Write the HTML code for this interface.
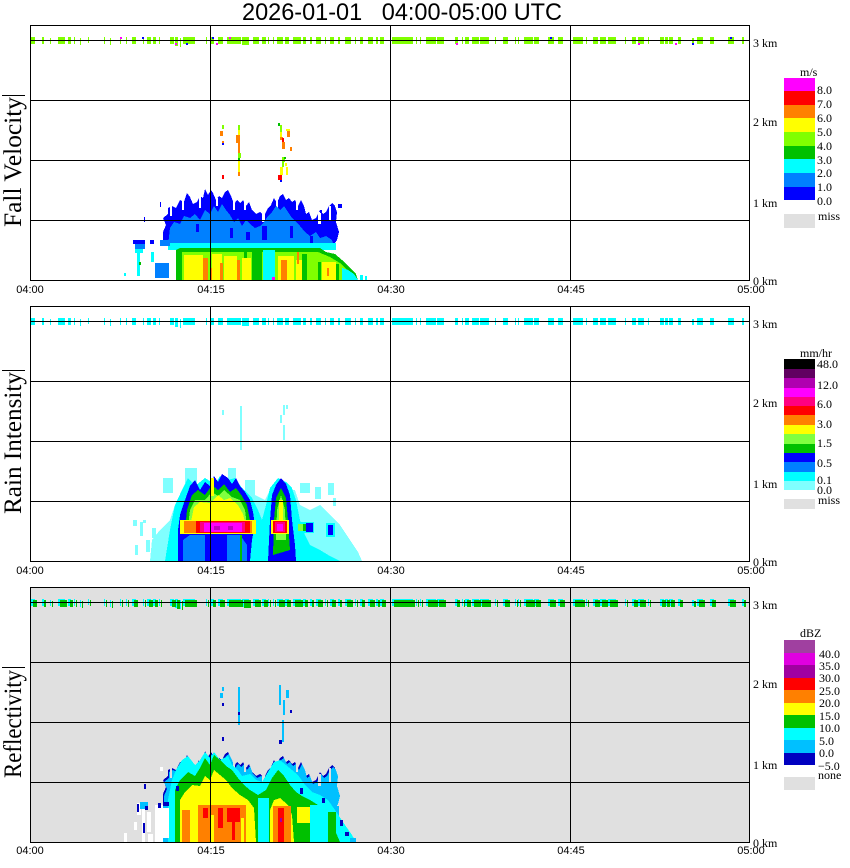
<!DOCTYPE html>
<html><head><meta charset="utf-8"><style>
html,body{margin:0;padding:0;background:#fff;width:850px;height:868px;overflow:hidden}
svg{display:block}
.t{font-family:"Liberation Sans",sans-serif}
.s{font-family:"Liberation Serif",serif}
.pre{white-space:pre}
</style></head><body>
<svg width="850" height="868" viewBox="0 0 850 868" xmlns="http://www.w3.org/2000/svg" shape-rendering="crispEdges">
<defs>
<g id="dash">
<rect x="31" y="37" width="4" height="7"/><rect x="42" y="37" width="2" height="7"/><rect x="50" y="38" width="1" height="6"/><rect x="58" y="37" width="7" height="7"/><rect x="68" y="37" width="3" height="7"/><rect x="74" y="37" width="1" height="7"/><rect x="80" y="38" width="1" height="7"/><rect x="88" y="37" width="1" height="6"/><rect x="104" y="37" width="1" height="7"/><rect x="110" y="38" width="1" height="7"/><rect x="120" y="37" width="1" height="7"/><rect x="126" y="37" width="1" height="7"/><rect x="132" y="37" width="4" height="7"/><rect x="143" y="37" width="1" height="7"/><rect x="147" y="37" width="4" height="7"/><rect x="153" y="37" width="3" height="7"/><rect x="159" y="37" width="1" height="7"/><rect x="170" y="37" width="4" height="7"/><rect x="175" y="37" width="3" height="9"/><rect x="180" y="38" width="1" height="9"/><rect x="183" y="37" width="12" height="7"/><rect x="206" y="37" width="1" height="7"/><rect x="211" y="37" width="3" height="7"/><rect x="218" y="37" width="5" height="7"/><rect x="227" y="37" width="6" height="7"/><rect x="233" y="37" width="8" height="7"/><rect x="242" y="37" width="7" height="8"/><rect x="253" y="37" width="6" height="7"/><rect x="262" y="37" width="4" height="7"/><rect x="268" y="37" width="1" height="7"/><rect x="273" y="37" width="1" height="7"/><rect x="277" y="37" width="6" height="7"/><rect x="285" y="37" width="4" height="7"/><rect x="293" y="37" width="8" height="7"/>
<rect x="303" y="37" width="3" height="7"/><rect x="310" y="37" width="2" height="7"/><rect x="316" y="37" width="5" height="7"/><rect x="325" y="37" width="1" height="7"/><rect x="330" y="37" width="4" height="7"/><rect x="338" y="37" width="2" height="7"/><rect x="345" y="37" width="6" height="7"/><rect x="355" y="37" width="1" height="7"/><rect x="360" y="37" width="3" height="7"/><rect x="368" y="37" width="5" height="7"/><rect x="376" y="37" width="2" height="7"/>
<rect x="380" y="37" width="4" height="7"/><rect x="392" y="37" width="21" height="7"/><rect x="416" y="37" width="1" height="7"/><rect x="420" y="37" width="1" height="7"/><rect x="426" y="37" width="10" height="7"/><rect x="437" y="37" width="7" height="7"/><rect x="455" y="37" width="3" height="7"/><rect x="462" y="37" width="1" height="7"/><rect x="465" y="37" width="4" height="7"/><rect x="472" y="37" width="7" height="7"/><rect x="480" y="37" width="9" height="7"/><rect x="495" y="37" width="1" height="7"/><rect x="503" y="37" width="5" height="7"/><rect x="515" y="37" width="1" height="7"/><rect x="518" y="37" width="1" height="7"/><rect x="524" y="37" width="9" height="7"/><rect x="534" y="37" width="5" height="7"/><rect x="548" y="37" width="6" height="7"/><rect x="558" y="37" width="5" height="7"/><rect x="573" y="37" width="10" height="7"/><rect x="586" y="37" width="1" height="7"/><rect x="593" y="37" width="5" height="7"/><rect x="600" y="37" width="6" height="7"/><rect x="608" y="37" width="8" height="7"/><rect x="625" y="37" width="1" height="7"/><rect x="632" y="37" width="4" height="7"/><rect x="638" y="37" width="6" height="7"/><rect x="648" y="37" width="1" height="7"/><rect x="660" y="37" width="4" height="7"/><rect x="665" y="37" width="3" height="7"/><rect x="669" y="37" width="4" height="7"/><rect x="678" y="37" width="3" height="7"/><rect x="692" y="38" width="2" height="6"/><rect x="697" y="37" width="6" height="7"/><rect x="710" y="37" width="4" height="7"/><rect x="728" y="37" width="6" height="7"/><rect x="742" y="37" width="2" height="7"/>
</g>
<polygon id="env" points="163,246 163,232 166,225 163,218 168,214 168,208 172,206 176,208 180,200 184,202 187,193 190,197 193,204 197,202 200,196 203,198 205,189 208,195 211,190 213,193 216,200 219,196 222,198 225,192 228,190 231,196 234,204 237,200 240,203 243,200 246,206 249,202 252,210 256,214 260,212 264,216 268,208 271,205 274,198 277,203 280,196 283,194 286,200 289,198 292,202 295,200 298,206 301,200 304,206 306,214 309,212 312,220 316,218 320,210 323,214 326,212 329,206 332,203 335,206 337,212 336,222 339,232 337,240 333,246"/>
<g id="gaps">
<rect x="182" y="200" width="2" height="10"/><rect x="199" y="196" width="2" height="12"/><rect x="216" y="198" width="2" height="8"/><rect x="244" y="200" width="2" height="10"/><rect x="262" y="212" width="3" height="10"/><rect x="296" y="200" width="2" height="10"/><rect x="318" y="212" width="3" height="12"/><rect x="329" y="206" width="2" height="14"/><rect x="233" y="198" width="2" height="12"/><rect x="276" y="200" width="2" height="8"/><rect x="170" y="206" width="2" height="10"/>
</g>
</defs>

<rect x="0" y="0" width="850" height="868" fill="#fff"/>
<rect x="30" y="587" width="720" height="255" fill="#e0e0e0"/>

<!-- ===== PANEL 1 DATA ===== -->
<use href="#dash" fill="#80ff00"/>
<g>
<rect x="120" y="37" width="2" height="2" fill="#ff00ff"/><rect x="175" y="43" width="2" height="2" fill="#ff00ff"/><rect x="216" y="43" width="2" height="2" fill="#ff00ff"/><rect x="229" y="37" width="2" height="2" fill="#ff00ff"/><rect x="456" y="43" width="2" height="2" fill="#ff00ff"/><rect x="638" y="43" width="2" height="2" fill="#ff00ff"/><rect x="675" y="43" width="2" height="2" fill="#ff00ff"/>
<rect x="142" y="37" width="2" height="2" fill="#0000ff"/><rect x="186" y="43" width="2" height="2" fill="#0000ff"/><rect x="212" y="37" width="2" height="2" fill="#0000ff"/><rect x="550" y="37" width="2" height="2" fill="#0000ff"/><rect x="692" y="43" width="2" height="2" fill="#0000ff"/><rect x="730" y="37" width="2" height="2" fill="#0000ff"/>
</g>
<use href="#env" fill="#0000ff"/>
<use href="#gaps" fill="#ffffff"/>
<polygon fill="#0080ff" points="168,246 170,228 174,222 180,224 184,216 190,218 195,214 200,220 205,210 210,214 214,206 218,212 222,204 226,210 230,215 234,222 238,218 242,226 246,220 250,224 255,228 260,226 264,222 268,216 272,212 276,206 280,210 284,206 288,212 292,218 296,222 300,226 305,232 310,236 316,232 320,238 326,236 332,240 334,246"/>
<g fill="#0000ff">
<rect x="262" y="226" width="5" height="14"/><rect x="230" y="228" width="3" height="10"/><rect x="196" y="224" width="3" height="8"/><rect x="290" y="226" width="3" height="12"/><rect x="246" y="232" width="4" height="8"/><rect x="310" y="236" width="3" height="8"/>
<rect x="160" y="202" width="1" height="5"/><rect x="144" y="217" width="1" height="5"/><rect x="338" y="204" width="4" height="4"/><rect x="320" y="210" width="2" height="3"/>
</g>
<rect x="168" y="243" width="168" height="7" fill="#00ffff"/>
<polygon fill="#00c000" points="176,280 176,250 180,248 320,248 326,252 335,254 342,260 350,268 356,274 358,280"/>
<polygon fill="#80ff00" points="179,280 179,252 318,252 330,257 340,263 347,270 352,280"/>
<g fill="#ffff00">
<rect x="184" y="255" width="19" height="25"/><rect x="212" y="254" width="10" height="26"/><rect x="224" y="256" width="13" height="24"/><rect x="242" y="258" width="9" height="22"/><rect x="278" y="256" width="16" height="24"/><rect x="296" y="260" width="6" height="20"/><rect x="322" y="262" width="14" height="18"/>
</g>
<g fill="#ff8000">
<rect x="203" y="258" width="5" height="22"/><rect x="220" y="263" width="3" height="17"/><rect x="237" y="260" width="3" height="20"/><rect x="281" y="260" width="6" height="20"/><rect x="297" y="252" width="2" height="12"/><rect x="210" y="268" width="2" height="12"/><rect x="327" y="268" width="2" height="8"/>
</g>
<g fill="#00c000">
<rect x="252" y="252" width="10" height="28"/><rect x="302" y="254" width="5" height="26"/><rect x="318" y="262" width="3" height="18"/><rect x="179" y="252" width="3" height="28"/><rect x="244" y="250" width="3" height="8"/><rect x="336" y="264" width="3" height="16"/>
</g>
<rect x="263" y="250" width="12" height="30" fill="#00ffff"/>
<rect x="272" y="277" width="3" height="3" fill="#ff00ff"/>
<polygon fill="#00ffff" points="342,268 348,270 354,274 358,280 342,280"/>
<rect x="360" y="275" width="3" height="5" fill="#00ffff"/><rect x="365" y="276" width="2" height="4" fill="#00ffff"/>
<!-- left scatter -->
<rect x="133" y="240" width="12" height="4" fill="#0000ff"/>
<rect x="135" y="244" width="10" height="5" fill="#0080ff"/>
<rect x="135" y="249" width="8" height="4" fill="#00ffff"/>
<rect x="137" y="252" width="3" height="24" fill="#00ffff"/>
<rect x="155" y="263" width="14" height="15" fill="#0080ff"/>
<rect x="139" y="262" width="2" height="3" fill="#00c000"/>
<rect x="124" y="273" width="2" height="3" fill="#00ffff"/>
<rect x="160" y="240" width="10" height="6" fill="#0080ff"/>
<rect x="150" y="240" width="4" height="4" fill="#0000ff"/>
<rect x="151" y="252" width="3" height="10" fill="#00ffff"/>
<!-- streaks -->
<g>
<rect x="222" y="125" width="2" height="4" fill="#80ff00"/><rect x="220" y="131" width="3" height="5" fill="#ff8000"/><rect x="222" y="141" width="2" height="2" fill="#ff8000"/><rect x="222" y="143" width="2" height="2" fill="#0000ff"/>
<rect x="238" y="125" width="2" height="5" fill="#80ff00"/><rect x="238" y="130" width="2" height="5" fill="#ffff00"/><rect x="236" y="135" width="4" height="8" fill="#ff8000"/><rect x="238" y="143" width="2" height="10" fill="#ff8000"/><rect x="238" y="153" width="3" height="5" fill="#80ff00"/><rect x="238" y="158" width="2" height="3" fill="#00c000"/><rect x="238" y="161" width="2" height="11" fill="#ffff00"/><rect x="238" y="172" width="2" height="4" fill="#ff8000"/>
<rect x="222" y="175" width="2" height="4" fill="#ff0000"/>
<rect x="278" y="123" width="2" height="3" fill="#00c000"/><rect x="280" y="125" width="2" height="7" fill="#80ff00"/><rect x="280" y="132" width="2" height="5" fill="#ffff00"/><rect x="280" y="137" width="3" height="3" fill="#ff8000"/><rect x="282" y="138" width="2" height="5" fill="#ff0000"/><rect x="282" y="142" width="3" height="7" fill="#ff8000"/><rect x="286" y="129" width="4" height="2" fill="#ffff00"/><rect x="287" y="131" width="3" height="6" fill="#ff8000"/><rect x="290" y="147" width="2" height="4" fill="#ff8000"/>
<rect x="282" y="157" width="3" height="5" fill="#80ff00"/><rect x="284" y="157" width="2" height="2" fill="#00c000"/><rect x="282" y="162" width="2" height="5" fill="#80ff00"/><rect x="285" y="163" width="2" height="3" fill="#ffff00"/><rect x="280" y="167" width="3" height="8" fill="#ffff00"/><rect x="286" y="167" width="2" height="8" fill="#ffff00"/><rect x="278" y="175" width="4" height="5" fill="#ff0000"/><rect x="280" y="180" width="2" height="2" fill="#0000ff"/>
</g>

<!-- ===== PANEL 2 DATA ===== -->
<use href="#dash" fill="#00ffff" transform="translate(0,281)"/>
<polygon fill="#80ffff" points="150,561 152,540 160,530 170,520 175,505 180,495 255,495 265,500 270,490 295,490 300,505 310,510 320,505 330,515 340,525 350,540 358,552 362,561"/>
<g fill="#80ffff">
<rect x="163" y="478" width="10" height="15"/><rect x="185" y="468" width="12" height="15"/><rect x="228" y="468" width="8" height="15"/><rect x="245" y="480" width="10" height="15"/><rect x="300" y="483" width="10" height="10"/><rect x="315" y="487" width="6" height="12"/><rect x="328" y="483" width="6" height="12"/><rect x="333" y="498" width="3" height="8"/>
<rect x="133" y="520" width="4" height="6"/><rect x="140" y="522" width="3" height="14"/><rect x="143" y="520" width="3" height="3"/><rect x="152" y="528" width="4" height="10"/><rect x="135" y="545" width="3" height="10"/><rect x="146" y="540" width="4" height="12"/><rect x="156" y="548" width="4" height="13"/>
<rect x="240" y="406" width="2" height="44"/><rect x="222" y="410" width="2" height="5"/><rect x="283" y="405" width="2" height="10"/><rect x="280" y="415" width="2" height="8"/><rect x="283" y="425" width="2" height="15"/><rect x="286" y="405" width="2" height="4"/>
</g>
<polygon fill="#00ffff" points="165,561 170,530 175,505 182,490 188,478 195,486 205,478 215,484 220,476 228,480 235,478 242,488 252,498 258,510 262,520 266,505 270,488 278,478 286,482 292,488 296,500 300,520 305,535 310,545 320,550 330,556 340,561"/>
<polygon fill="#0000ff" points="178,561 178,530 180,515 185,500 190,486 195,480 200,490 205,482 210,486 214,476 218,482 222,474 228,478 232,484 236,478 240,486 245,492 250,500 253,512 255,525 252,540 250,561"/>
<polygon fill="#0080ff" points="183,561 183,540 190,535 240,535 247,545 247,561"/>
<rect x="205" y="534" width="22" height="27" fill="#0000ff"/>
<rect x="240" y="535" width="2" height="26" fill="#00c000"/>
<polygon fill="#00c000" points="185,530 187,510 192,495 198,490 205,495 212,485 218,490 224,484 230,492 236,488 242,496 247,505 250,520 250,532"/>
<polygon fill="#80ff40" points="188,526 190,510 195,500 205,500 212,492 218,496 224,490 232,497 240,500 245,510 247,526"/>
<polygon fill="#ffff00" points="191,522 194,507 200,502 210,503 218,495 224,500 230,498 238,505 243,514 245,522"/>
<rect x="210" y="478" width="4" height="18" fill="#ffff00"/>
<rect x="180" y="520" width="76" height="14" fill="#ffff00"/>
<rect x="184" y="521" width="68" height="12" fill="#ff8000"/>
<rect x="196" y="521" width="54" height="12" fill="#ff0000"/>
<rect x="200" y="522" width="45" height="10" fill="#ff0080"/>
<rect x="204" y="523" width="38" height="9" fill="#ff00ff"/>
<rect x="214" y="526" width="6" height="4" fill="#c000c0"/><rect x="228" y="526" width="5" height="4" fill="#c000c0"/>
<polygon fill="#0000ff" points="268,561 270,520 272,495 276,485 281,478 286,484 290,495 292,520 295,545 296,561"/>
<polygon fill="#00c000" points="273,555 274,520 276,498 281,488 286,498 288,520 290,550"/>
<polygon fill="#80ff40" points="276,540 277,510 281,495 285,510 286,540"/>
<rect x="279" y="500" width="4" height="20" fill="#ffff00"/>
<rect x="271" y="520" width="18" height="14" fill="#ffff00"/>
<rect x="273" y="521" width="14" height="12" fill="#ff0000"/>
<rect x="275" y="522" width="10" height="10" fill="#ff0080"/>
<rect x="277" y="524" width="6" height="7" fill="#ff00ff"/>
<rect x="296" y="522" width="18" height="11" fill="#00ffff"/>
<rect x="298" y="524" width="6" height="7" fill="#80ff40"/>
<rect x="303" y="524" width="4" height="7" fill="#00c000"/>
<rect x="306" y="523" width="7" height="9" fill="#0000ff"/>
<rect x="326" y="523" width="9" height="14" fill="#00ffff"/>
<rect x="328" y="525" width="5" height="10" fill="#0000ff"/>

<!-- ===== PANEL 3 DATA ===== -->
<use href="#dash" fill="#00ffff" transform="translate(0,562)"/>
<use href="#dash" fill="#00c000" transform="translate(2,563)"/>
<use href="#env" fill="#0000c0" transform="translate(0,562)"/>
<use href="#env" fill="#00c0ff" transform="translate(1,564)"/>
<use href="#gaps" fill="#e0e0e0" transform="translate(0,562)"/>
<rect x="163" y="806" width="176" height="36" fill="#00c0ff"/>
<polygon fill="#00ffff" points="168,842 168,800 172,780 176,770 182,760 188,756 195,765 200,760 205,752 210,758 214,752 220,760 228,756 232,765 238,770 242,776 250,774 256,780 262,782 268,772 274,762 280,760 286,765 292,770 298,775 305,785 312,792 320,795 328,800 335,810 345,825 352,835 356,842"/>
<polygon fill="#00c000" points="175,842 175,790 180,780 188,772 195,776 200,768 205,758 210,765 214,755 220,760 226,766 232,770 238,778 244,785 250,790 258,795 266,790 272,778 278,770 284,776 290,785 296,792 302,796 310,800 318,805 326,815 334,828 340,842"/>
<polygon fill="#ffff00" points="180,842 180,800 185,792 192,785 200,786 205,776 210,780 214,770 220,775 226,780 232,788 240,795 248,800 254,808 256,842"/>
<rect x="258" y="798" width="11" height="44" fill="#00ffff"/>
<polygon fill="#ffff00" points="270,842 270,810 274,800 280,798 288,805 292,815 294,842"/>
<rect x="297" y="807" width="13" height="16" fill="#ffff00"/>
<rect x="310" y="805" width="18" height="37" fill="#00ffff"/>
<rect x="300" y="823" width="6" height="19" fill="#00c000"/>
<rect x="328" y="812" width="8" height="30" fill="#00c000"/>
<rect x="198" y="805" width="48" height="37" fill="#ff8000"/>
<rect x="182" y="810" width="8" height="32" fill="#ff8000"/>
<rect x="211" y="815" width="3" height="27" fill="#ffff00"/>
<rect x="241" y="818" width="3" height="24" fill="#ffff00"/>
<g fill="#ff0000">
<rect x="203" y="808" width="5" height="10"/><rect x="218" y="808" width="5" height="20"/><rect x="227" y="808" width="13" height="14"/><rect x="232" y="822" width="3" height="18"/>
</g>
<rect x="273" y="806" width="18" height="36" fill="#ff8000"/>
<rect x="278" y="808" width="6" height="34" fill="#ff0000"/>
<rect x="280" y="818" width="2" height="4" fill="#a000a0"/>
<g fill="#0000c0">
<rect x="300" y="788" width="3" height="6"/><rect x="322" y="798" width="3" height="5"/><rect x="340" y="820" width="3" height="6"/><rect x="345" y="832" width="4" height="4"/><rect x="176" y="786" width="3" height="5"/>
</g>
<rect x="350" y="838" width="6" height="4" fill="#00c0ff"/>
<!-- left scatter panel 3 -->
<g fill="#ffffff">
<rect x="137" y="803" width="4" height="12"/><rect x="142" y="808" width="3" height="34"/><rect x="147" y="812" width="4" height="20"/><rect x="155" y="805" width="8" height="37"/><rect x="163" y="808" width="6" height="30"/><rect x="124" y="833" width="3" height="9"/><rect x="160" y="767" width="3" height="4"/><rect x="134" y="822" width="3" height="8"/><rect x="148" y="834" width="5" height="8"/>
</g>
<g>
<rect x="137" y="804" width="2" height="8" fill="#0000c0"/><rect x="140" y="802" width="8" height="7" fill="#00c0ff"/><rect x="145" y="806" width="3" height="4" fill="#0000c0"/><rect x="163" y="802" width="6" height="4" fill="#0000c0"/><rect x="143" y="823" width="2" height="10" fill="#0000c0"/><rect x="158" y="803" width="3" height="5" fill="#0000c0"/><rect x="144" y="784" width="2" height="5" fill="#0000c0"/>
</g>
<g>
<rect x="222" y="687" width="2" height="4" fill="#00c0ff"/><rect x="220" y="693" width="3" height="5" fill="#00c0ff"/><rect x="222" y="703" width="2" height="3" fill="#0000c0"/>
<rect x="238" y="687" width="2" height="5" fill="#00c0ff"/><rect x="238" y="692" width="2" height="33" fill="#00c0ff"/><rect x="238" y="712" width="2" height="3" fill="#0000c0"/><rect x="222" y="737" width="2" height="4" fill="#0000c0"/>
<rect x="279" y="685" width="2" height="20" fill="#00c0ff"/><rect x="283" y="700" width="2" height="15" fill="#00c0ff"/><rect x="282" y="720" width="2" height="22" fill="#00c0ff"/><rect x="279" y="740" width="3" height="4" fill="#0000c0"/><rect x="286" y="690" width="3" height="8" fill="#00c0ff"/><rect x="290" y="710" width="2" height="3" fill="#0000c0"/>
</g>

<!-- ===== GRIDS & FRAMES ===== -->
<g stroke="#000" stroke-width="1" fill="none">
<path d="M30 40.5H750M30 100.5H750M30 160.5H750M30 220.5H750M210.5 25V281M390.5 25V281M570.5 25V281"/>
<rect x="30.5" y="25.5" width="719" height="255"/>
<path d="M30 321.5H750M30 381.5H750M30 441.5H750M30 501.5H750M210.5 306V562M390.5 306V562M570.5 306V562"/>
<rect x="30.5" y="306.5" width="719" height="255"/>
<path d="M30 602.5H750M30 662.5H750M30 722.5H750M30 782.5H750M210.5 587V843M390.5 587V843M570.5 587V843"/>
<rect x="30.5" y="587.5" width="719" height="255"/>
<path d="M2 95.5H25M2 370.5H25M2 667.5H25"/>
</g>

<!-- ===== TEXT ===== -->
<text class="t pre" x="242" y="20" font-size="24" xml:space="preserve" textLength="320" lengthAdjust="spacingAndGlyphs">2026-01-01   04:00-05:00 UTC</text>

<g class="s" font-size="25" text-anchor="middle">
<text transform="translate(21,162) rotate(-90)" textLength="130" lengthAdjust="spacingAndGlyphs">Fall Velocity</text>
<text transform="translate(21,443) rotate(-90)" textLength="142" lengthAdjust="spacingAndGlyphs">Rain Intensity</text>
<text transform="translate(21,724) rotate(-90)" textLength="108" lengthAdjust="spacingAndGlyphs">Reflectivity</text>
</g>

<g class="t" font-size="11" text-anchor="middle">
<text x="30" y="293">04:00</text><text x="211" y="293">04:15</text><text x="391" y="293">04:30</text><text x="571" y="293">04:45</text><text x="751" y="293">05:00</text>
<text x="30" y="574">04:00</text><text x="211" y="574">04:15</text><text x="391" y="574">04:30</text><text x="571" y="574">04:45</text><text x="751" y="574">05:00</text>
<text x="30" y="854">04:00</text><text x="211" y="854">04:15</text><text x="391" y="854">04:30</text><text x="571" y="854">04:45</text><text x="751" y="854">05:00</text>
</g>

<g class="s" font-size="12">
<text x="753" y="47">3 km</text><text x="753" y="126">2 km</text><text x="753" y="207">1 km</text><text x="753" y="285">0 km</text>
<text x="753" y="328">3 km</text><text x="753" y="407">2 km</text><text x="753" y="488">1 km</text><text x="753" y="566">0 km</text>
<text x="753" y="609">3 km</text><text x="753" y="688">2 km</text><text x="753" y="769">1 km</text><text x="753" y="847">0 km</text>
</g>

<!-- Legend 1 -->
<g>
<rect x="784" y="78" width="31" height="13" fill="#ff00ff"/>
<rect x="784" y="91" width="31" height="14" fill="#ff0000"/>
<rect x="784" y="105" width="31" height="13" fill="#ff8000"/>
<rect x="784" y="118" width="31" height="14" fill="#ffff00"/>
<rect x="784" y="132" width="31" height="14" fill="#80ff00"/>
<rect x="784" y="146" width="31" height="13" fill="#00c000"/>
<rect x="784" y="159" width="31" height="14" fill="#00ffff"/>
<rect x="784" y="173" width="31" height="14" fill="#0080ff"/>
<rect x="784" y="187" width="31" height="13" fill="#0000ff"/>
<rect x="784" y="214" width="31" height="14" fill="#e0e0e0"/>
</g>
<g class="s" font-size="12">
<text x="800" y="76">m/s</text>
<text x="817" y="94">8.0</text><text x="817" y="108">7.0</text><text x="817" y="122">6.0</text><text x="817" y="136">5.0</text><text x="817" y="150">4.0</text><text x="817" y="164">3.0</text><text x="817" y="177">2.0</text><text x="817" y="191">1.0</text><text x="817" y="205">0.0</text>
<text x="818" y="220">miss</text>
</g>

<!-- Legend 2 -->
<g>
<rect x="784" y="359" width="31" height="10" fill="#000000"/>
<rect x="784" y="369" width="31" height="9" fill="#600060"/>
<rect x="784" y="378" width="31" height="10" fill="#b000b0"/>
<rect x="784" y="388" width="31" height="9" fill="#ff00ff"/>
<rect x="784" y="397" width="31" height="9" fill="#ff0080"/>
<rect x="784" y="406" width="31" height="9" fill="#ff0000"/>
<rect x="784" y="415" width="31" height="10" fill="#ff8000"/>
<rect x="784" y="425" width="31" height="9" fill="#ffff00"/>
<rect x="784" y="434" width="31" height="10" fill="#80ff40"/>
<rect x="784" y="444" width="31" height="9" fill="#00c000"/>
<rect x="784" y="453" width="31" height="9" fill="#0000ff"/>
<rect x="784" y="462" width="31" height="10" fill="#0080ff"/>
<rect x="784" y="472" width="31" height="9" fill="#00ffff"/>
<rect x="784" y="481" width="31" height="9" fill="#80ffff"/>
<rect x="784" y="499" width="31" height="10" fill="#e0e0e0"/>
</g>
<g class="s" font-size="12">
<text x="800" y="357">mm/hr</text>
<text x="817" y="368">48.0</text><text x="817" y="389">12.0</text><text x="817" y="408">6.0</text><text x="817" y="428">3.0</text><text x="817" y="447">1.5</text><text x="817" y="467">0.5</text><text x="817" y="484">0.1</text><text x="817" y="494">0.0</text>
<text x="818" y="504">miss</text>
</g>

<!-- Legend 3 -->
<g>
<rect x="784" y="640" width="31" height="13" fill="#a040a0"/>
<rect x="784" y="653" width="31" height="12" fill="#e000e0"/>
<rect x="784" y="665" width="31" height="13" fill="#a000a0"/>
<rect x="784" y="678" width="31" height="12" fill="#ff0000"/>
<rect x="784" y="690" width="31" height="13" fill="#ff8000"/>
<rect x="784" y="703" width="31" height="12" fill="#ffff00"/>
<rect x="784" y="715" width="31" height="13" fill="#00c000"/>
<rect x="784" y="728" width="31" height="12" fill="#00ffff"/>
<rect x="784" y="740" width="31" height="13" fill="#00c0ff"/>
<rect x="784" y="753" width="31" height="12" fill="#0000c0"/>
<rect x="784" y="777" width="31" height="13" fill="#e0e0e0"/>
</g>
<g class="s" font-size="12">
<text x="800" y="637">dBZ</text>
<text x="819" y="658">40.0</text><text x="819" y="670">35.0</text><text x="819" y="682">30.0</text><text x="819" y="695">25.0</text><text x="819" y="707">20.0</text><text x="819" y="720">15.0</text><text x="819" y="732">10.0</text><text x="819" y="745">5.0</text><text x="819" y="757">0.0</text><text x="818" y="770">−5.0</text>
<text x="818" y="779">none</text>
</g>
</svg>
</body></html>
